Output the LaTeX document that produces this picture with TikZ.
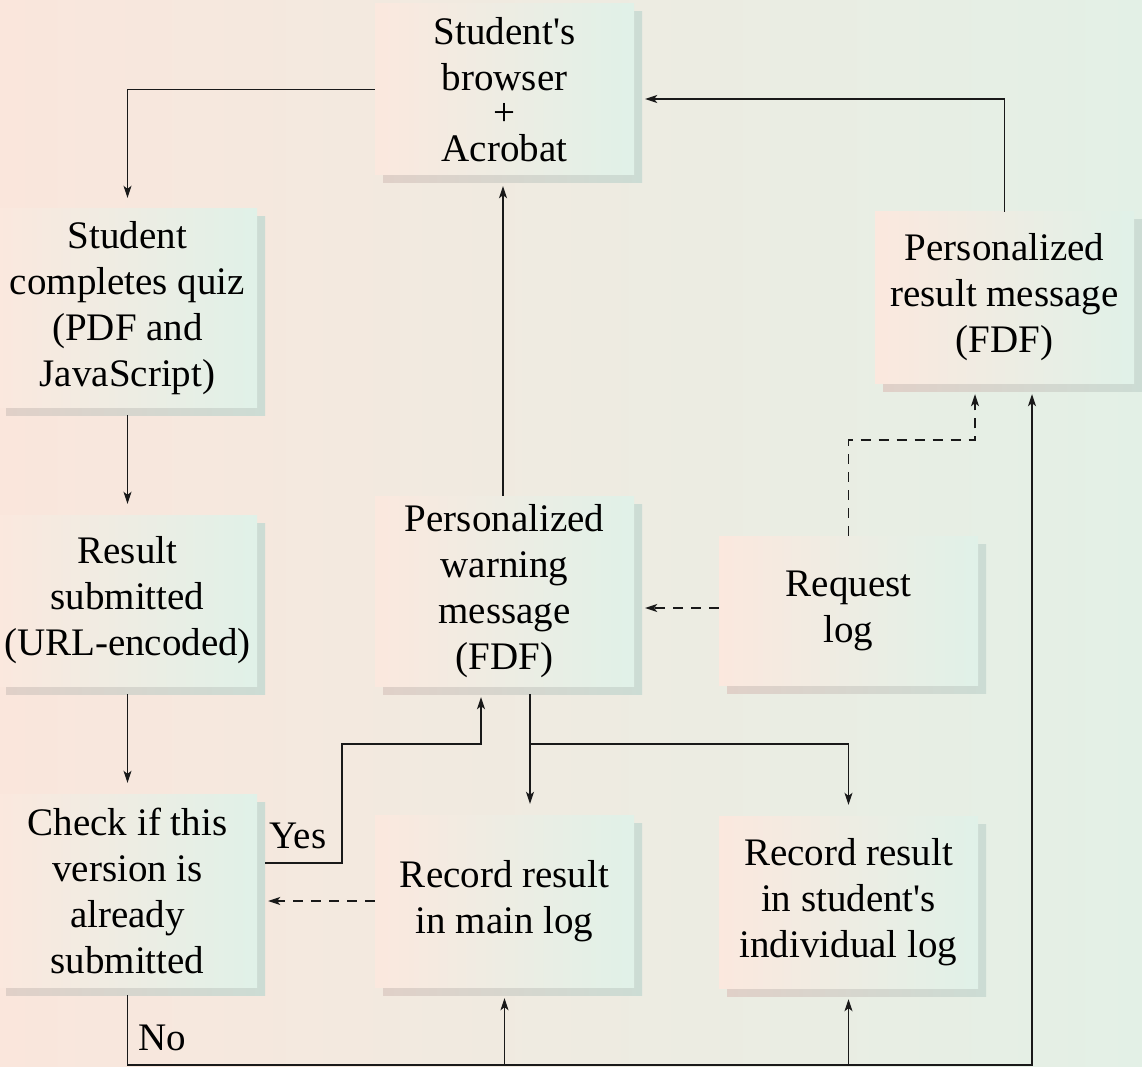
\documentclass[tikz,border=0pt]{standalone}
\usepackage{fontspec}
\setmainfont{Liberation Serif}[Ligatures=TeXOff]
\usetikzlibrary{arrows.meta,shadows,calc}
\definecolor{bgL}{RGB}{250,230,220}
\definecolor{bgR}{RGB}{227,240,230}
\definecolor{nL}{RGB}{251,232,222}
\definecolor{nR}{RGB}{224,241,232}
\definecolor{sL}{RGB}{224,208,200}
\definecolor{sR}{RGB}{204,220,212}
\tikzset{
  box/.style={rectangle, minimum width=259pt, inner sep=0pt, align=center,
    font=\fontsize{39}{46}\selectfont, left color=nL, right color=nR, draw=none,
    drop shadow={shadow xshift=8pt, shadow yshift=-8pt, opacity=1, left color=sL, right color=sR}},
  lbl/.style={inner sep=0pt, font=\fontsize{39}{46}\selectfont},
  wire/.style={line width=1.3pt, draw=black!90},
  conn/.style={wire, -{Stealth[length=12pt,width=8pt,inset=3pt]}, shorten >=11pt},
  dashline/.style={dash pattern=on 10pt off 8pt},
  fromshadow/.style={shorten <=8pt}
}
\begin{document}
\begin{tikzpicture}[x=1pt,y=-1pt]
\fill[left color=bgL, right color=bgR] (0,0) rectangle (1142,1067);
\useasboundingbox (0,0) rectangle (1142,1067);

\node[box, minimum height=171pt] (A) at (504.5,89.5) {Student's\\browser\\[-11pt]+\\[-10pt]Acrobat};
\node[box, minimum height=198pt] (B) at (127.5,308) {Student\\completes quiz\\(PDF and\\JavaScript)};
\node[box, minimum height=171pt] (C) at (127.5,600.5) {Result\\submitted\\(URL-encoded)};
\node[box, minimum height=193pt] (D) at (127.5,890.5) {Check if this\\version is\\already\\submitted};
\node[box, minimum height=190pt] (E) at (504.5,591) {Personalized\\warning\\message\\(FDF)};
\node[box, minimum height=149pt] (F) at (848.5,610.5) {Request\\log};
\node[box, minimum height=171pt] (G) at (1004.5,297.5) {Personalized\\result message\\(FDF)};
\node[box, minimum height=172pt] (H) at (504.5,901) {Record result\\in main log};
\node[box, minimum height=172pt] (I) at (848.5,902) {Record result\\in student's\\individual log};

\node[lbl] (yes) at (298,836) {Yes};
\node[lbl] (no) at (162,1037.5) {No};

\coordinate (yesC) at (342,744);
\coordinate (Ej) at (530,744);
\coordinate (fgc) at (975,440);
\coordinate (noR) at (1032,1065);

% A -> B
\draw[conn] (A.west) -| (B.north);
% B -> C, C -> D
\draw[conn, fromshadow] (B.south) -- (C.north);
\draw[conn, fromshadow] (C.south) -- (D.north);
% Yes path D -> E
\draw[conn, fromshadow] ($(D.east)+(0,-27.5)$) -| (yesC) -| ($(E.south)+(-23.5,0)$);
% E -> A
\draw[conn] ($(E.north)+(-1.5,0)$) -- ($(A.south)+(-1.5,0)$);
% E -> H, E -> I
\draw[wire, fromshadow] ($(E.south)+(25.5,0)$) -- (Ej);
\draw[conn] (Ej) -- (Ej |- H.north);
\draw[conn] (Ej) -| (I.north);
% G -> A
\draw[conn] (G.north) |- ($(A.east)+(0,9.5)$);
% F -> E dashed
\draw[conn, dashline] ($(F.west)+(0,-2.5)$) -- ($(E.east)+(0,17)$);
% F -> G dashed
\draw[conn, dashline] (F.north) |- (fgc) -- (fgc |- G.south);
% H -> D dashed
\draw[conn, dashline] (H.west) -- (H.west -| D.east);
% No path
\draw[conn, fromshadow] (D.south) |- (noR) -- (noR |- G.south);
\draw[conn] (H.south |- noR) -- (H.south);
\draw[conn] (I.south |- noR) -- (I.south);
\end{tikzpicture}
\end{document}
